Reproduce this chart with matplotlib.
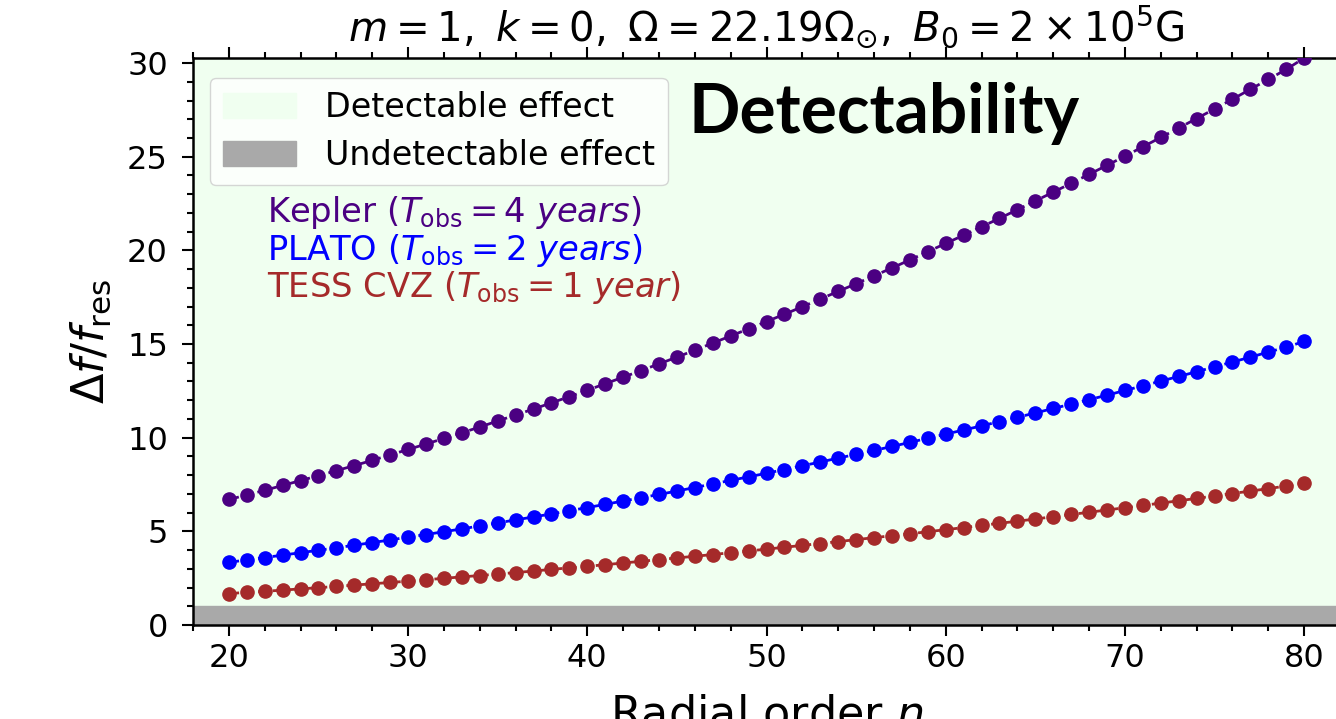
import numpy as np
import matplotlib
matplotlib.use("Agg")
import matplotlib.pyplot as plt

# ---- data ----
n_order = list(range(20, 81))
kepler = [6.70, 6.94, 7.19, 7.45, 7.71, 7.97, 8.24, 8.51, 8.79, 9.08,
          9.37, 9.66, 9.96, 10.26, 10.57, 10.89, 11.21, 11.53, 11.86, 12.19,
          12.53, 12.88, 13.23, 13.58, 13.94, 14.30, 14.67, 15.05, 15.43, 15.81,
          16.20, 16.59, 16.99, 17.40, 17.81, 18.22, 18.64, 19.06, 19.49, 19.93,
          20.37, 20.81, 21.26, 21.71, 22.17, 22.64, 23.11, 23.58, 24.06, 24.54,
          25.03, 25.53, 26.03, 26.53, 27.04, 27.55, 28.07, 28.60, 29.13, 29.66,
          30.27]
plato = [3.35, 3.47, 3.60, 3.73, 3.86, 3.99, 4.12, 4.26, 4.40, 4.54,
         4.69, 4.83, 4.98, 5.13, 5.29, 5.45, 5.61, 5.77, 5.93, 6.10,
         6.27, 6.44, 6.62, 6.79, 6.97, 7.15, 7.34, 7.53, 7.72, 7.91,
         8.10, 8.30, 8.50, 8.70, 8.91, 9.11, 9.32, 9.53, 9.75, 9.97,
         10.19, 10.41, 10.63, 10.86, 11.09, 11.32, 11.56, 11.79, 12.03, 12.27,
         12.52, 12.77, 13.02, 13.27, 13.52, 13.78, 14.04, 14.30, 14.57, 14.83,
         15.14]
tess = [1.68, 1.74, 1.80, 1.86, 1.93, 1.99, 2.06, 2.13, 2.20, 2.27,
        2.34, 2.42, 2.49, 2.57, 2.64, 2.72, 2.80, 2.88, 2.97, 3.05,
        3.13, 3.22, 3.31, 3.40, 3.49, 3.58, 3.67, 3.76, 3.86, 3.95,
        4.05, 4.15, 4.25, 4.35, 4.45, 4.56, 4.66, 4.77, 4.87, 4.98,
        5.09, 5.20, 5.32, 5.43, 5.54, 5.66, 5.78, 5.90, 6.02, 6.14,
        6.26, 6.38, 6.51, 6.63, 6.76, 6.89, 7.02, 7.15, 7.28, 7.42,
        7.57]
detect_threshold = 1.0

series_labels = [r"Kepler ($T_{\rm obs}=4$ $years$)",
                 r"PLATO ($T_{\rm obs}=2$ $years$)",
                 r"TESS CVZ ($T_{\rm obs}=1$ $year$)"]
series_colors = ["indigo", "blue", "brown"]

# ---- figure ----
W, H, DPI = 1336, 719, 100
fig = plt.figure(figsize=(W / DPI, H / DPI), dpi=DPI)
ax_left, ax_right = 193, 1340
ax_top, ax_bot = 58, 625
ax = fig.add_axes([ax_left / W, 1 - ax_bot / H, (ax_right - ax_left) / W, (ax_bot - ax_top) / H])

ymax = max(kepler)
ax.set_xlim(18, 82)
ax.set_ylim(0, ymax)

ax.axhspan(detect_threshold, 100, color="honeydew", label="Detectable effect", zorder=0)
ax.axhspan(0, detect_threshold, color="darkgray", label="Undetectable effect", zorder=0)

for vals, col in zip([kepler, plato, tess], series_colors):
    ax.plot(n_order, vals, linestyle="--", marker="o", color=col,
            markersize=9.5, linewidth=2, zorder=3)

fs = 24
leg = ax.legend(loc="upper left", fontsize=fs, handlelength=2.2, handleheight=0.8,
                handletextpad=0.85, labelspacing=0.45, borderpad=0.4,
                borderaxespad=0.5, framealpha=0.8, bbox_to_anchor=(0.0, 0.995))

ys = [0.711, 0.644, 0.578]
for lab, col, yy in zip(series_labels, series_colors, ys):
    ax.text(0.0645, yy, lab, color=col, fontsize=fs + 0.3, transform=ax.transAxes,
            ha="left", va="baseline")

det = ax.text((689 - ax_left) / (ax_right - ax_left), (ax_bot - 133) / (ax_bot - ax_top),
              "Detectability", fontsize=44, fontweight="bold",
              family=["Lato", "DejaVu Sans"], transform=ax.transAxes,
              ha="left", va="baseline", color="black", zorder=5)
# fit text width to reference
fig.canvas.draw()
bb = det.get_window_extent()
det.set_fontsize(44 * 391 / bb.width)

ax.set_title(r"$m=1,\ k=0,\ \Omega=22.19\Omega_{\odot},\ B_0=2\times10^5$G",
             fontsize=29, pad=12)
ax.set_xlabel(r"Radial order $n$", fontsize=32, labelpad=14)
ax.set_ylabel(r"$\Delta f/f_{\rm res}$", fontsize=32, labelpad=10)

ax.set_xticks([20, 30, 40, 50, 60, 70, 80])
ax.set_xticks(np.arange(18, 83, 2), minor=True)
ax.set_yticks([0, 5, 10, 15, 20, 25, 30])
ax.set_yticks(np.arange(0, 31, 1), minor=True)
ax.tick_params(which="both", direction="out", top=True, right=True, labelsize=23, width=1.5)
ax.tick_params(which="major", length=8)
ax.tick_params(axis="x", which="major", pad=5)
ax.tick_params(axis="y", which="major", pad=10)
ax.tick_params(which="minor", length=4)
for s in ax.spines.values():
    s.set_linewidth(1.8)

fig.savefig("out.png", dpi=DPI)
